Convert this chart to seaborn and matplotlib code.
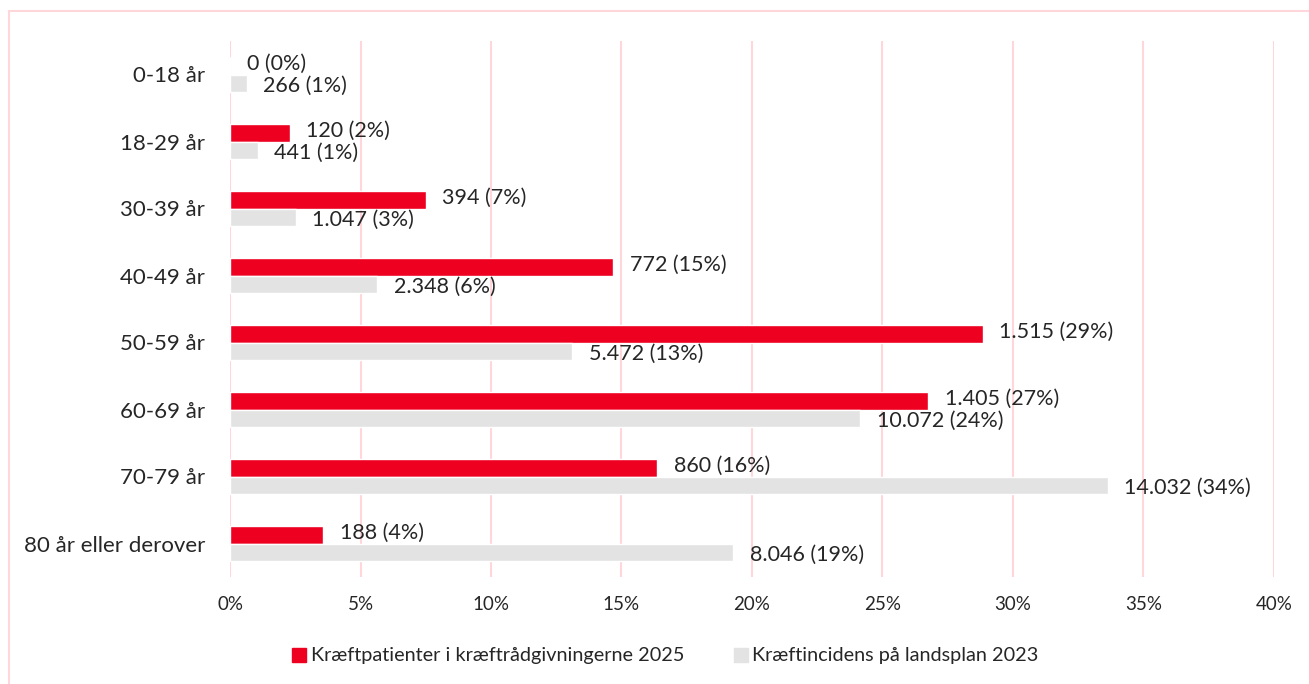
import pandas as pd
import seaborn as sns
import matplotlib
matplotlib.use('Agg')
import matplotlib.pyplot as plt
from matplotlib.lines import Line2D

# data
age_groups = ["0-18 år", "18-29 år", "30-39 år", "40-49 år",
              "50-59 år", "60-69 år", "70-79 år", "80 år eller derover"]
series_names = ["Kræftpatienter i kræftrådgivningerne 2025",
                "Kræftincidens på landsplan 2023"]
counts_2025 = [0, 120, 394, 772, 1515, 1405, 860, 188]
share_2025 = [0.0, 2.28, 7.50, 14.69, 28.84, 26.74, 16.37, 3.58]
label_pct_2025 = [0, 2, 7, 15, 29, 27, 16, 4]
counts_2023 = [266, 441, 1047, 2348, 5472, 10072, 14032, 8046]
share_2023 = [0.64, 1.06, 2.51, 5.63, 13.11, 24.14, 33.63, 19.28]
label_pct_2023 = [1, 1, 3, 6, 13, 24, 34, 19]
x_ticks = [0, 5, 10, 15, 20, 25, 30, 35, 40]

red = "#EE0020"
grey = "#E3E3E3"
text_col = "#262626"

df = pd.DataFrame({
    "age": age_groups * 2,
    "share": share_2025 + share_2023,
    "series": [series_names[0]] * 8 + [series_names[1]] * 8,
})

sns.set_style("white")
plt.rcParams['font.family'] = ['Lato', 'DejaVu Sans']

fig = plt.figure(figsize=(13.09, 6.84), dpi=100)
ax = fig.add_axes([230 / 1309, 1 - 577 / 684, 1044 / 1309, 536 / 684])

sns.barplot(data=df, x="share", y="age", hue="series", orient="h",
            palette=[red, grey], width=0.52, ax=ax, legend=False,
            saturation=1)

ax.set_xlim(0, 40)
ax.set_ylim(7.5, -0.5)
ax.set_xticks(x_ticks)
ax.set_xticklabels([f"{t}%" for t in x_ticks])
ax.set_xlabel("")
ax.set_ylabel("")
ax.xaxis.grid(True, color="#FFD6DA", linewidth=1.5)
ax.set_axisbelow(True)
for s in ax.spines.values():
    s.set_visible(False)
ax.tick_params(axis="x", labelsize=13.5, colors=text_col, length=0, pad=14)
ax.tick_params(axis="y", labelsize=16, colors=text_col, length=0, pad=18)


def fmt(n, p):
    return f"{n:,}".replace(",", ".") + f" ({p}%)"


for i in range(len(age_groups)):
    ax.annotate(fmt(counts_2025[i], label_pct_2025[i]), (share_2025[i], i - 0.155),
                xytext=(12, 0), textcoords="offset points", va="center",
                ha="left", fontsize=15.5, color=text_col)
    ax.annotate(fmt(counts_2023[i], label_pct_2023[i]), (share_2023[i], i + 0.17),
                xytext=(12, 0), textcoords="offset points", va="center",
                ha="left", fontsize=15.5, color=text_col)

handles = [Line2D([], [], marker="s", linestyle="", markersize=10,
                  markerfacecolor=c, markeredgecolor=c) for c in (red, grey)]
fig.legend(handles, series_names, loc="center", bbox_to_anchor=(0.5055, 1 - 656 / 684),
           ncol=2, frameon=False, fontsize=14.3, handletextpad=-0.1,
           handlelength=1.4, columnspacing=2.15, labelcolor=text_col)

# light pink frame round the chart area
fig.add_artist(Line2D([9 / 1309, 1], [1 - 11 / 684] * 2, color="#FFD6DA",
                      linewidth=1.5, transform=fig.transFigure))
fig.add_artist(Line2D([9 / 1309] * 2, [0, 1 - 11 / 684], color="#FFD6DA",
                      linewidth=1.5, transform=fig.transFigure))

fig.savefig("out.png", dpi=100)
